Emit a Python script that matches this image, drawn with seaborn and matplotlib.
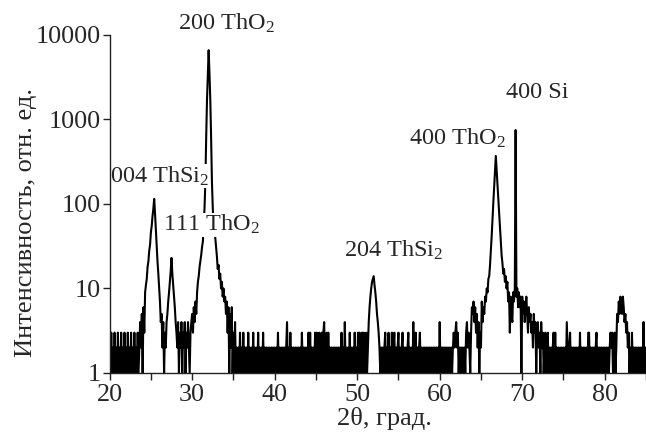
import numpy as np
import pandas as pd
import matplotlib
matplotlib.use("Agg")
import matplotlib.pyplot as plt
from matplotlib.ticker import FixedLocator, NullLocator, MultipleLocator
import seaborn as sns

# Measurement grid: 2theta from 20.0 to 85.0, step 0.1 deg
two_theta_start = 20.0
two_theta_step = 0.1

# Intensity (counts), 5-degree blocks
counts_20_25 = [2,1,3,1,2,1,3,1,2,1, 3,1,2,1,3,1,2,1,3,1, 2,1,3,1,2,1,3,1,2,1,
                3,1,2,1,3,1,2,4,2,5, 1,6,3,9,11,13,18,21,28,33]
counts_25_30 = [46,55,72,88,115,78,50,33,21,15, 10,7,4,5,2,4,1,3,2,4,
                5,7,9,12,16,23,15,11,8,6, 4,3,2,4,1,3,2,4,1,3, 2,4,1,3,2,4,2,1,3,4]
counts_30_35 = [5,3,6,4,7,5,9,12,14,18, 21,25,31,36,55,90,180,600,1700,3500,
                6600,3500,1700,600,180,90,55,46,40,31, 24,17,19,13,15,10,12,8,10,7,
                8,5,7,3,6,1,5,2,6,1]
counts_35_40 = [3,1,4,1,2,1,2,1,3,1, 2,1,3,1,2,1,2,1,3,1, 2,1,2,1,3,1,2,1,2,1,
                3,1,2,1,2,1,3,1,2,1, 2,1,2,1,2,1,2,1,2,1]
counts_40_45 = [2,1,2,1,3,1,2,1,2,1, 2,1,2,1,2,4,1,2,1,3, 1,2,1,2,1,2,1,2,1,2,
                1,2,1,3,1,2,1,2,1,2, 1,3,1,3,1,2,1,2,1,3]
counts_45_50 = [1,3,1,2,3,1,2,3,1,3, 4,1,2,3,1,3,1,2,1,2, 1,2,1,2,1,2,1,2,1,2,
                1,3,1,2,1,4,1,2,1,2, 1,3,1,2,1,2,1,3,1,2]
counts_50_55 = [1,3,1,3,1,2,3,1,3,1, 2,3,1,2,4,6,8,10,12,13, 14,11,9,7,5,4,3,2,1,2,
                1,2,1,2,3,1,2,1,3,1, 2,1,3,1,2,3,1,2,1,2]
counts_55_60 = [3,1,2,1,2,3,1,2,1,2, 1,2,3,1,2,1,2,1,4,1, 2,3,1,2,1,2,3,1,2,1,
                2,1,2,1,2,1,2,1,2,1, 2,1,2,1,2,1,2,1,2,1]
counts_60_65 = [4,1,2,1,2,1,2,1,2,1, 2,1,2,1,2,1,2,3,2,3, 4,2,3,1,2,1,2,1,2,1,
                2,1,3,4,2,3,2,1,3,6, 5,7,4,6,3,5,2,4,1,3]
counts_65_70 = [2,7,4,6,5,8,7,10,9,13, 14,19,28,42,68,105,160,245,370,250,
                170,115,78,53,36,25,20,15,17,12, 14,10,12,7,9,3,8,5,4,9,
                7,10,750,8,10,6,9,6,8,1]
counts_70_75 = [8,5,7,4,6,8,5,3,6,4, 5,3,4,2,5,3,4,1,3,4, 2,3,1,4,2,3,1,2,3,1,
                2,3,1,2,1,2,1,2,3,1, 3,1,2,1,2,1,2,1,2,1]
counts_75_80 = [2,1,2,1,4,2,1,2,3,1, 2,1,2,1,2,1,2,1,2,1, 3,1,2,1,2,1,2,1,2,1,
                3,3,1,2,1,2,1,2,1,2, 3,1,2,1,2,1,2,1,2,1]
counts_80_85 = [2,1,2,1,2,1,2,3,2,3, 1,2,3,1,2,5,4,7,5,8, 6,5,8,6,4,5,3,4,2,3,
                1,2,1,3,1,2,1,2,1,2, 1,2,1,2,1,2,1,4,1,2, 1]

x_ticks = [20, 30, 40, 50, 60, 70, 80]
y_ticks = [1, 10, 100, 1000, 10000]
y_tick_labels = ["1", "10", "100", "1000", "10000"]

peak_labels = ["200 ThO$_2$", "004 ThSi$_2$", "111 ThO$_2$",
               "204 ThSi$_2$", "400 ThO$_2$", "400 Si"]
peak_label_x = [28.28, 20.05, 26.5, 48.38, 56.28, 68.07]
peak_label_y = [11500, 179, 47.9, 23.8, 499, 1782]

intensity = np.array(counts_20_25 + counts_25_30 + counts_30_35 + counts_35_40 +
                     counts_40_45 + counts_45_50 + counts_50_55 + counts_55_60 +
                     counts_60_65 + counts_65_70 + counts_70_75 + counts_75_80 +
                     counts_80_85, dtype=float)
two_theta = np.round(two_theta_start + two_theta_step * np.arange(len(intensity)), 2)
df = pd.DataFrame({"two_theta": two_theta, "intensity": intensity})

sns.set_style("ticks")
plt.rcParams["font.family"] = ["Liberation Serif", "DejaVu Serif"]
plt.rcParams["mathtext.fontset"] = "custom"
plt.rcParams["mathtext.rm"] = "Liberation Serif"
plt.rcParams["mathtext.it"] = "Liberation Serif:italic"

fig = plt.figure(figsize=(6.46, 4.34), dpi=100)
ax = fig.add_axes([0.1697, 0.1406, 0.8303, 0.7788])

sns.lineplot(data=df, x="two_theta", y="intensity", ax=ax, color="black",
             linewidth=1.5, estimator=None, sort=False)

ax.set_yscale("log")
ax.set_xlim(20, 85)
ax.set_ylim(1, 10000)
ax.xaxis.set_major_locator(FixedLocator(x_ticks))
ax.xaxis.set_minor_locator(MultipleLocator(10, offset=5))
ax.yaxis.set_major_locator(FixedLocator(y_ticks))
ax.set_yticklabels(y_tick_labels)
ax.yaxis.set_minor_locator(NullLocator())

for s in ["top", "right"]:
    ax.spines[s].set_visible(False)
for s in ["left", "bottom"]:
    ax.spines[s].set_color("#222222")
    ax.spines[s].set_linewidth(1.0)
    ax.spines[s].set_zorder(3)

ax.tick_params(axis="both", which="major", direction="out", length=5, width=1,
               color="#222222", labelsize=18.8, pad=1)
ax.tick_params(axis="x", which="major", pad=3)
ax.tick_params(axis="x", which="minor", direction="out", length=5, width=1, color="#222222")

ax.set_xlabel("2θ, град.", fontsize=19)
ax.set_ylabel("Интенсивность, отн. ед.", fontsize=19)
ax.xaxis.set_label_coords(0.5125, -0.10)
ax.yaxis.set_label_coords(-0.135, 0.444)

for lab, lx, ly in zip(peak_labels, peak_label_x, peak_label_y):
    ax.text(lx, ly, lab, fontsize=17.5, ha="left", va="baseline", clip_on=False,
            bbox=dict(facecolor="white", edgecolor="none", pad=0.3), zorder=2.6)

fig.savefig("out.png", dpi=100)
